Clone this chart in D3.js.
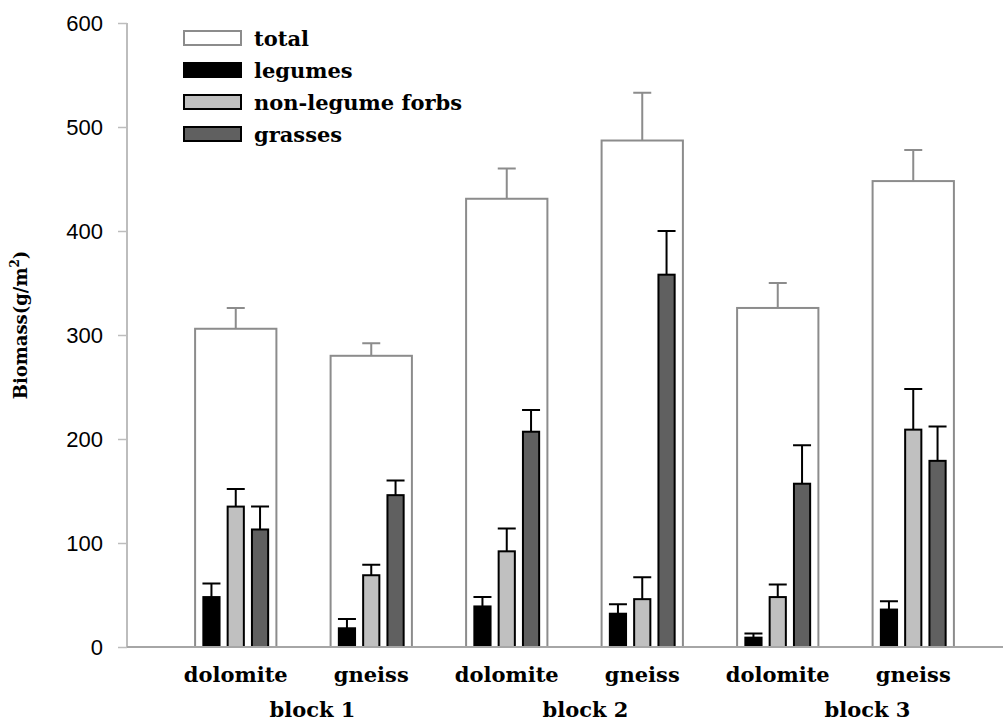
<!DOCTYPE html>
<meta charset="utf-8">
<script src="https://cdn.jsdelivr.net/npm/d3@7"></script>
<style>
body { margin: 0; background: #fff; }
.tick text { font-family: "Liberation Sans", Arial, sans-serif; font-size: 22px; fill: #000; }
.lbl { font-family: "DejaVu Serif", serif; font-weight: bold; fill: #000; }
</style>
<body>
<script>

// data
let categories = ['dolomite', 'gneiss', 'dolomite', 'gneiss', 'dolomite', 'gneiss'];
let blocks = ['block 1', 'block 2', 'block 3'];
let total = [306, 280, 431, 487, 326, 448];
let totalErr = [20, 12, 29, 46, 24, 30];
let legumes = [48, 18, 39, 32, 9, 36];
let legumesErr = [13, 9, 9, 9, 4, 8];
let forbs = [135, 69, 92, 46, 48, 209];
let forbsErr = [17, 10, 22, 21, 12, 39];
let grasses = [113, 146, 207, 358, 157, 179];
let grassesErr = [22, 14, 21, 42, 37, 33];
let yTicks = [0, 100, 200, 300, 400, 500, 600];
let legendNames = ['total', 'legumes', 'non-legume forbs', 'grasses'];

let width = 1003,
    height = 724;

let series = [
  {name: 'legumes', values: legumes, err: legumesErr, fill: '#000000'},
  {name: 'forbs', values: forbs, err: forbsErr, fill: '#c0c0c0'},
  {name: 'grasses', values: grasses, err: grassesErr, fill: '#606060'}
];

let svg = d3.select("body").append("svg")
    .attr("width", width)
    .attr("height", height);

let y = d3.scaleLinear().domain([0, 600]).range([647, 23]);
let x = d3.scaleBand().domain(d3.range(categories.length)).range([168, 981]).padding(0);
let sub = d3.scaleBand().domain(series.map(s => s.name)).range([-40.5, 40.5]).padding(1/3);

// y axis
let yAxis = svg.append("g")
    .attr("transform", "translate(127,0)")
    .call(d3.axisLeft(y).tickValues(yTicks).tickSize(9).tickPadding(15));
yAxis.selectAll("line").attr("stroke", "#bdbdbd").attr("stroke-width", 1.5);
yAxis.select(".domain").remove();
svg.append("line")
    .attr("x1", 127).attr("x2", 127)
    .attr("y1", y(600)).attr("y2", y(0))
    .attr("stroke", "#bdbdbd").attr("stroke-width", 2);

// total bars
let totW = x.bandwidth() * 0.6;
svg.selectAll(".total")
    .data(total)
    .enter().append("rect")
    .attr("class", "total")
    .attr("x", (d, i) => x(i) + x.bandwidth() / 2 - totW / 2)
    .attr("y", d => y(d))
    .attr("width", totW)
    .attr("height", d => y(0) - y(d))
    .attr("fill", "#fff")
    .attr("stroke", "#8c8c8c")
    .attr("stroke-width", 2);

svg.selectAll(".totalErr")
    .data(total)
    .enter().append("path")
    .attr("d", (d, i) => {
      let cx = x(i) + x.bandwidth() / 2;
      let t = y(d + totalErr[i]);
      return `M${cx},${y(d)}V${t}M${cx - 9},${t}H${cx + 9}`;
    })
    .attr("fill", "none")
    .attr("stroke", "#8c8c8c")
    .attr("stroke-width", 2);

// component bars
series.forEach(s => {
  let g = svg.append("g");
  g.selectAll("rect")
      .data(s.values)
      .enter().append("rect")
      .attr("x", (d, i) => x(i) + x.bandwidth() / 2 + sub(s.name))
      .attr("y", d => y(d))
      .attr("width", sub.bandwidth())
      .attr("height", d => y(0) - y(d))
      .attr("fill", s.fill)
      .attr("stroke", "#000")
      .attr("stroke-width", 2);
  g.selectAll("path")
      .data(s.values)
      .enter().append("path")
      .attr("d", (d, i) => {
        let cx = x(i) + x.bandwidth() / 2 + sub(s.name) + sub.bandwidth() / 2;
        let t = y(d + s.err[i]);
        return `M${cx},${y(d)}V${t}M${cx - 9},${t}H${cx + 9}`;
      })
      .attr("fill", "none")
      .attr("stroke", "#000")
      .attr("stroke-width", 2);
});

// x axis line
svg.append("line")
    .attr("x1", 127).attr("x2", width)
    .attr("y1", y(0)).attr("y2", y(0))
    .attr("stroke", "#a6a6a6").attr("stroke-width", 2);

// category labels
svg.selectAll(".cat")
    .data(categories)
    .enter().append("text")
    .attr("class", "lbl")
    .attr("x", (d, i) => x(i) + x.bandwidth() / 2)
    .attr("y", 682)
    .attr("text-anchor", "middle")
    .style("font-size", "21px")
    .text(d => d);

let blockDx = [9, 11, 22];
svg.selectAll(".blk")
    .data(blocks)
    .enter().append("text")
    .attr("class", "lbl")
    .attr("x", (d, i) => (x(2 * i) + x(2 * i + 1) + x.bandwidth()) / 2 + blockDx[i])
    .attr("y", 717)
    .attr("text-anchor", "middle")
    .style("font-size", "21px")
    .text(d => d);

// y label
let yl = svg.append("text")
    .attr("class", "lbl")
    .attr("transform", "translate(27,325) rotate(-90)")
    .attr("text-anchor", "middle")
    .style("font-size", "18px");
yl.append("tspan").text("Biomass(g/m");
yl.append("tspan").attr("dy", -8).style("font-size", "12px").text("2");
yl.append("tspan").attr("dy", 8).text(")");

// legend
let legFills = ['#fff', '#000', '#c0c0c0', '#606060'];
let legStroke = ['#8c8c8c', '#000', '#000', '#000'];
let leg = svg.selectAll(".leg")
    .data(legendNames)
    .enter().append("g")
    .attr("transform", (d, i) => `translate(184,${31 + i * 32})`);
leg.append("rect")
    .attr("width", 57).attr("height", 14)
    .attr("fill", (d, i) => legFills[i])
    .attr("stroke", (d, i) => legStroke[i])
    .attr("stroke-width", 2);
leg.append("text")
    .attr("class", "lbl")
    .attr("x", 70).attr("y", 15)
    .style("font-size", "21px")
    .text(d => d);

</script>
